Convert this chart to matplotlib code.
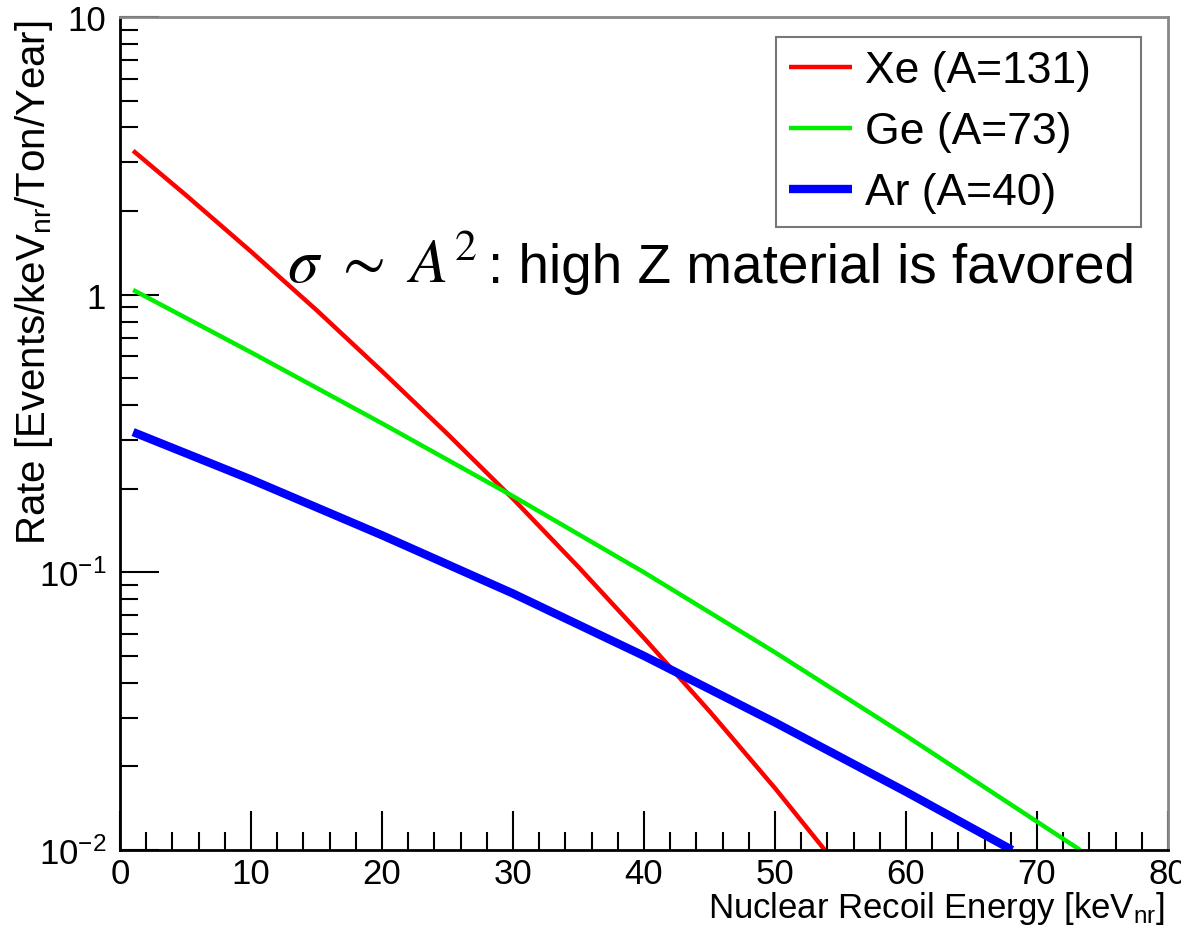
import matplotlib
matplotlib.use('Agg')
import matplotlib.pyplot as plt
from matplotlib.patches import Rectangle
from matplotlib.ticker import FixedLocator, LogLocator, NullFormatter, MultipleLocator

plt.rcParams['font.family'] = ['Liberation Sans', 'DejaVu Sans']
plt.rcParams['mathtext.fontset'] = 'custom'
plt.rcParams['mathtext.rm'] = 'Liberation Sans'
plt.rcParams['mathtext.it'] = 'Liberation Sans:italic'

# данные
energy_xe = [1, 5, 10, 15, 20, 25, 30, 35, 40, 45, 50, 53.8]
rate_xe = [3.3, 2.29, 1.43, 0.88, 0.53, 0.315, 0.184, 0.1045, 0.058, 0.0316, 0.0167, 0.01]

energy_ge = [1, 10, 20, 30, 40, 50, 60, 70, 73.3]
rate_ge = [1.04, 0.62, 0.344, 0.188, 0.100, 0.0515, 0.0258, 0.01265, 0.01]

energy_ar = [1, 10, 20, 30, 40, 50, 60, 68.1]
rate_ar = [0.32, 0.216, 0.136, 0.0839, 0.050, 0.0288, 0.0162, 0.01]

labels = ['Xe (A=131)', 'Ge (A=73)', 'Ar (A=40)']
y_ticks = [0.01, 0.1, 1, 10]
y_ticklabels = [r'$10^{-2}$', r'$10^{-1}$', '1', '10']

fig = plt.figure(figsize=(11.81, 9.28), dpi=100)
ax = fig.add_axes([120 / 1181, 77 / 928, 1048 / 1181, 833 / 928])

ax.plot(energy_xe, rate_xe, color='#ff0000', lw=3.2, label=labels[0], solid_capstyle='butt')
ax.plot(energy_ge, rate_ge, color='#00ee00', lw=3.2, label=labels[1], solid_capstyle='butt')
ax.plot(energy_ar, rate_ar, color='#0000ff', lw=6.0, label=labels[2], solid_capstyle='butt')

ax.set_yscale('log')
ax.set_xlim(0, 80)
ax.set_ylim(0.01, 10)

# оси в стиле ROOT
ax.xaxis.set_major_locator(MultipleLocator(10))
ax.xaxis.set_minor_locator(MultipleLocator(2))
ax.yaxis.set_major_locator(FixedLocator(y_ticks))
ax.set_yticklabels(y_ticklabels)
ax.yaxis.set_minor_locator(LogLocator(base=10, subs=range(2, 10)))
ax.yaxis.set_minor_formatter(NullFormatter())
ax.tick_params(axis='both', which='major', direction='in', length=28, width=1.5,
               labelsize=25, top=False, right=False)
ax.tick_params(axis='both', which='minor', direction='in', length=13, width=1.5,
               top=False, right=False)
ax.tick_params(axis='x', which='major', pad=5)
ax.tick_params(axis='y', which='major', pad=10)

for side in ['left', 'bottom']:
    ax.spines[side].set_color('black')
    ax.spines[side].set_linewidth(2)
for side in ['top', 'right']:
    ax.spines[side].set_color('#888888')
    ax.spines[side].set_linewidth(2)

ax.set_xlabel(r'Nuclear Recoil Energy [keV$_{\mathregular{nr}}$]', fontsize=25, ha='right', va='top')
ax.xaxis.set_label_coords(0.997, -0.047)
ax.set_ylabel(r'Rate [Events/keV$_{\mathregular{nr}}$/Ton/Year]', fontsize=29, ha='right', va='bottom')
ax.yaxis.set_label_coords(-0.062, 0.997)

# легенда: рамка отдельно, как в оригинале
ax.add_patch(Rectangle((0.626, 0.748), 0.348, 0.228, transform=ax.transAxes,
                       facecolor='white', edgecolor='#777777', lw=1.5, zorder=4))
leg = ax.legend(loc='upper left', bbox_to_anchor=(0.626, 0.976), borderaxespad=0,
                fontsize=32, frameon=False, handlelength=1.4,
                handletextpad=0.3, labelspacing=0.45, borderpad=0.3)
leg.set_zorder(5)

ax.text(12.75, 1.11, r'$\sigma\ \sim\ A^2$', fontsize=45,
        math_fontfamily='stix', ha='left', va='baseline')
ax.text(28.1, 1.11, ': high Z material is favored', fontsize=39.5,
        ha='left', va='baseline')

plt.savefig('out.png', dpi=100)
